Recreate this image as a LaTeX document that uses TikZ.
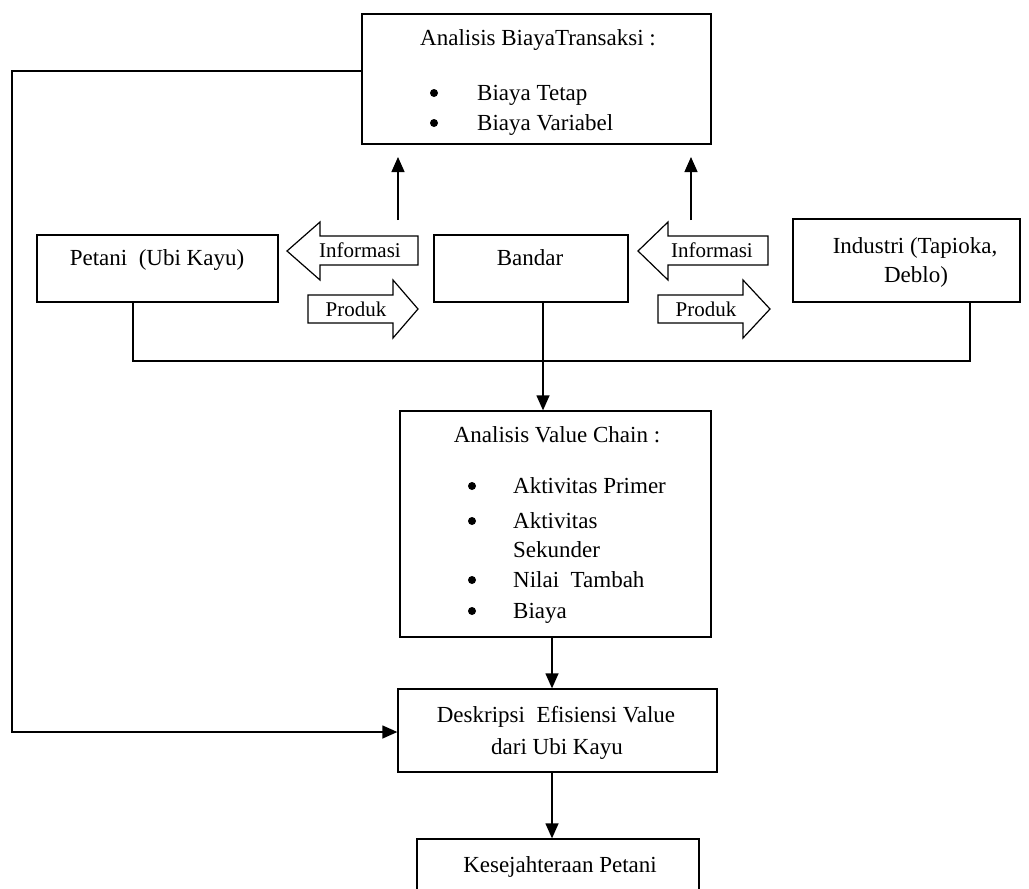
\documentclass[tikz,border=0pt]{standalone}
\usepackage{fontspec}
\setmainfont{Liberation Serif}
\usetikzlibrary{arrows.meta}
\begin{document}
\begin{tikzpicture}[x=1pt,y=-1pt,
  box/.style={draw,line width=1.3pt,rectangle,inner sep=0pt},
  lbl/.style={anchor=base,inner sep=0pt,font=\fontsize{23}{27}\selectfont},
  lbll/.style={anchor=base west,inner sep=0pt,font=\fontsize{23}{27}\selectfont},
  blbl/.style={anchor=base,inner sep=0pt,font=\fontsize{21}{24}\selectfont},
  dot/.style={circle,fill=black,inner sep=0pt,minimum size=8pt},
  conn/.style={line width=1.3pt},
  arr/.style={line width=1.3pt,-{Triangle[width=13pt,length=15pt]}},
  blk/.style={draw,line width=1.2pt,line join=miter,fill=white}]
\useasboundingbox (0,0) rectangle (1029,889);
\clip (0,0) rectangle (1029,889);
% boxes
\node[box,minimum width=349pt,minimum height=130pt] (top) at (536.5,79) {};
\node[box,minimum width=241pt,minimum height=67pt] (petani) at (157.5,268.5) {};
\node[box,minimum width=194pt,minimum height=67pt] (bandar) at (531,268.5) {};
\node[box,minimum width=227pt,minimum height=83pt] (industri) at (906.5,260.5) {};
\node[box,minimum width=311pt,minimum height=226pt] (vc) at (555.5,524) {};
\node[box,minimum width=319pt,minimum height=83pt] (desk) at (557.5,730.5) {};
\node[box,minimum width=282pt,minimum height=70pt] (kes) at (558,874) {};
% texts
\node[lbl] (t1) at (538,45) {Analisis BiayaTransaksi :};
\node[dot] (b1) at (434,93) {};
\node[lbll] (t2) at (477,100) {Biaya Tetap};
\node[dot] (b2) at (434,123) {};
\node[lbll] (t3) at (477,130) {Biaya Variabel};
\node[lbl] (tp) at (157,265) {Petani\ \ (Ubi Kayu)};
\node[lbl] (tb) at (530,265) {Bandar};
\node[lbl] (ti1) at (915,253) {Industri (Tapioka,};
\node[lbl] (ti2) at (916,282) {Deblo)};
\node[lbl] (v0) at (557,442) {Analisis Value Chain :};
\node[dot] (vb1) at (472,486) {};
\node[lbll] (v1) at (513,493) {Aktivitas Primer};
\node[dot] (vb2) at (472,521) {};
\node[lbll] (v2) at (513,528) {Aktivitas};
\node[lbll] (v3) at (513,557) {Sekunder};
\node[dot] (vb3) at (472,580) {};
\node[lbll] (v4) at (513,587) {Nilai\ \ Tambah};
\node[dot] (vb4) at (472,611) {};
\node[lbll] (v5) at (513,618) {Biaya};
\node[lbl] (d1) at (556,722) {Deskripsi\ \ Efisiensi Value};
\node[lbl] (d2) at (557,754) {dari Ubi Kayu};
\node[lbl] (k1) at (560,872) {Kesejahteraan Petani};
% block arrows
\draw[blk] (287,251) -- (320,222) -- (320,236) -- (418,236) -- (418,265) -- (320,265) -- (320,280) -- cycle;
\draw[blk] (638,251) -- (668,222) -- (668,236) -- (768,236) -- (768,265) -- (668,265) -- (668,280) -- cycle;
\draw[blk] (418,309) -- (393,280) -- (393,295) -- (308,295) -- (308,323) -- (393,323) -- (393,338) -- cycle;
\draw[blk] (770,309) -- (743,280) -- (743,295) -- (658,295) -- (658,323) -- (743,323) -- (743,338) -- cycle;
\node[blbl] (inf1) at (360,257) {Informasi};
\node[blbl] (prd1) at (356,316) {Produk};
\node[blbl] (inf2) at (712,257) {Informasi};
\node[blbl] (prd2) at (706,316) {Produk};
% coordinates
\coordinate (ua1) at (398,220);
\coordinate (ut1) at (398,157);
\coordinate (ua2) at (691,220);
\coordinate (ut2) at (691,157);
\coordinate (lc1) at (12,71);
\coordinate (lc2) at (12,732);
\coordinate (pb) at (133,361);
\coordinate (ib) at (970,361);
% connectors
\draw[arr] (ua1) -- (ut1);
\draw[arr] (ua2) -- (ut2);
\draw[arr] (top.west |- lc1) -- (lc1) -- (lc2) -- (desk.west |- lc2);
\draw[conn] (pb |- petani.south) -- (pb) -- (ib) -- (ib |- industri.south);
\draw[arr] (543,0 |- bandar.south) -- (543,0 |- vc.north);
\draw[arr] (552,0 |- vc.south) -- (552,0 |- desk.north);
\draw[arr] (552,0 |- desk.south) -- (552,0 |- kes.north);
\end{tikzpicture}
\end{document}
